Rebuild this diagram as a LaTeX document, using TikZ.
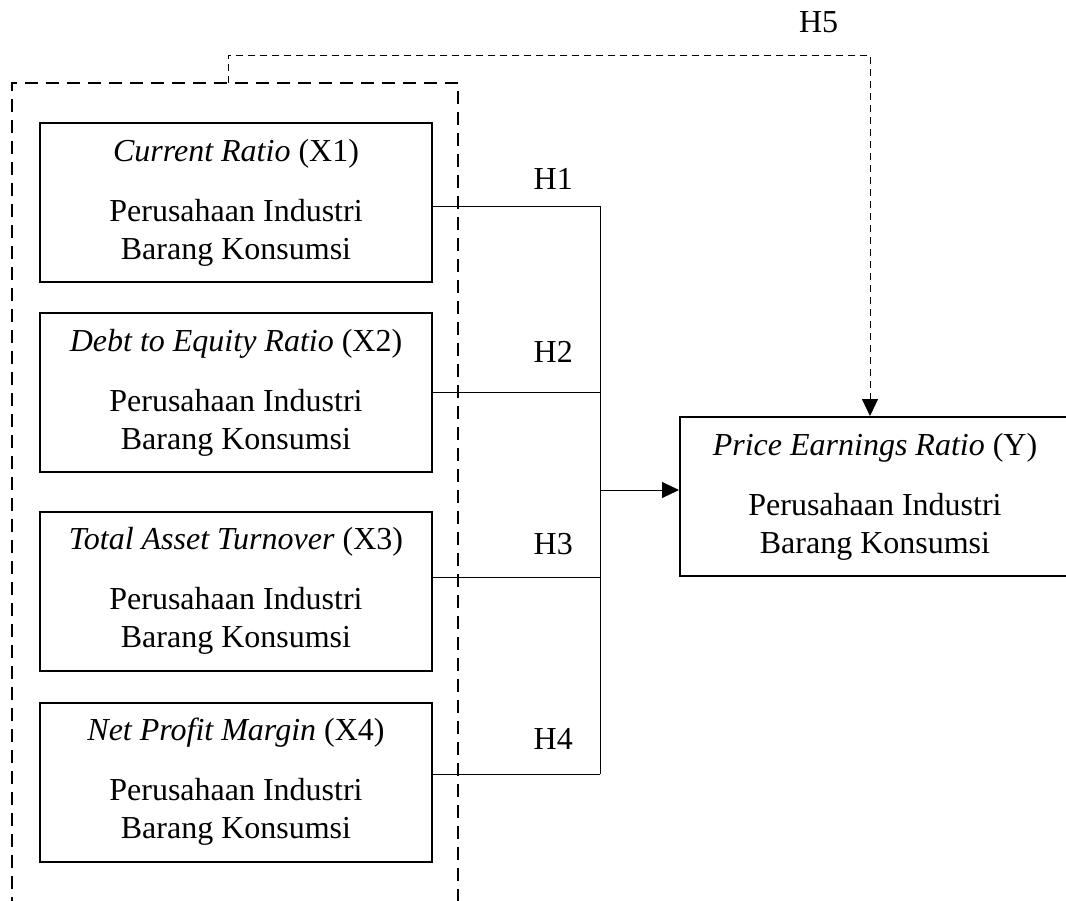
\documentclass[tikz,border=0pt]{standalone}
\usepackage{fontspec}
\setmainfont{Liberation Serif}
\usetikzlibrary{arrows.meta}

\begin{document}
\begin{tikzpicture}[x=0.5pt, y=-0.5pt, font=\fontsize{16}{19}\selectfont,
        varbox/.style={draw, line width=1pt, minimum width=196pt, minimum height=79.5pt, align=center},
        link/.style={line width=0.5pt},
        hlabel/.style={inner sep=0pt},
        tip/.style={-{Triangle[length=8.5pt, width=8pt]}}]
        \clip (0,0) rectangle (1066,900);

        % Independent variables
        \node[varbox] (x1) at (236,202.5) {\textit{Current Ratio} (X1)\\[11pt]Perusahaan Industri\\Barang Konsumsi};
        \node[varbox] (x2) at (236,392.5) {\textit{Debt to Equity Ratio} (X2)\\[11pt]Perusahaan Industri\\Barang Konsumsi};
        \node[varbox] (x3) at (236,591) {\textit{Total Asset Turnover} (X3)\\[11pt]Perusahaan Industri\\Barang Konsumsi};
        \node[varbox] (x4) at (236,782) {\textit{Net Profit Margin} (X4)\\[11pt]Perusahaan Industri\\Barang Konsumsi};

        % Dependent variable
        \node[varbox, minimum width=195pt] (y) at (875,496.5) {\textit{Price Earnings Ratio} (Y)\\[11pt]Perusahaan Industri\\Barang Konsumsi};

        % Dashed frame round X1 - X4
        \draw[line width=1.4pt, dash pattern=on 6.5pt off 4pt] (12,910) -- (12,83) -- (458,83) -- (458,910);
        \coordinate (ft) at (228,83);

        % Partial hypotheses H1 - H4
        \foreach \i/\yy/\lift in {1/206/8, 2/392/14.5, 3/577/11, 4/774/12} {
            \coordinate (h\i) at (600,\yy);
            \draw[link] (x\i.east |- h\i) -- node[hlabel, above=\lift pt, pos=0.72] (lab\i) {H\i} (h\i);
        }
        \draw[link] (h1) -- (h4);
        \coordinate (bus) at (600,490);
        \draw[link, tip] (bus) -- (bus -| y.west);

        % Simultaneous hypothesis H5
        \coordinate (h5) at (870,55);
        \draw[link, tip, dash pattern=on 3.5pt off 2.5pt] (ft) -- (ft |- h5) -- node[hlabel, above=11pt, pos=0.92] (lab5) {H5} (h5) -- (h5 |- y.north);
    \end{tikzpicture}
\end{document}
